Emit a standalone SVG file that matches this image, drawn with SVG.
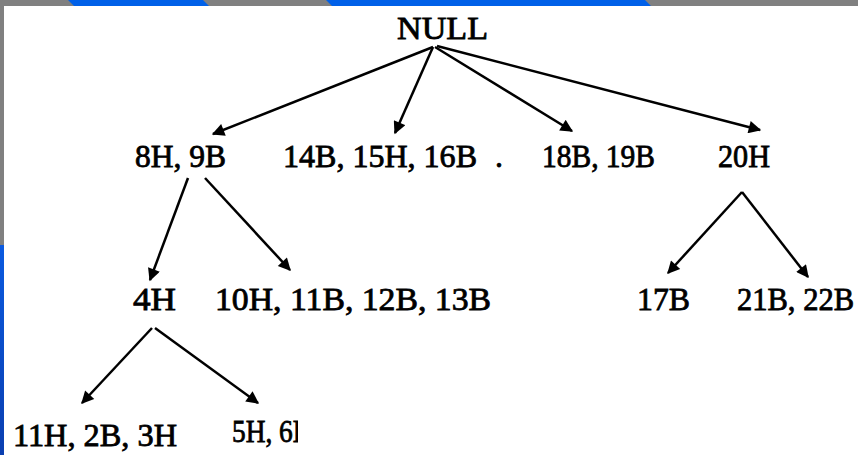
<svg xmlns="http://www.w3.org/2000/svg" width="858" height="455" viewBox="0 0 858 455">
<defs>
<style>
.t{font-family:"Liberation Serif","Times New Roman",serif;font-size:32px;fill:#000;stroke:#000;stroke-width:0.8}
.e{stroke:#000;stroke-width:2.5;fill:none;marker-end:url(#ah)}
</style>
<marker id="ah" viewBox="0 0 10 10" refX="9" refY="5" markerWidth="5.5" markerHeight="5" orient="auto" markerUnits="strokeWidth">
<path d="M0,0 L10,5 L0,10 z" fill="#000"/>
</marker>
<linearGradient id="lb" x1="0" y1="0" x2="0" y2="1">
<stop offset="0" stop-color="#0a5ae0"/>
<stop offset="1" stop-color="#0a3fb0"/>
</linearGradient>
<clipPath id="cut"><rect x="0" y="380" width="298" height="75"/></clipPath>
</defs>
<rect x="0" y="0" width="858" height="455" fill="#fff"/>
<g id="frame">
<rect x="0" y="0" width="858" height="6" fill="#808080"/>
<polygon points="68,0 203,0 209,6 74,6" fill="#0060e8"/>
<polygon points="326,0 645,0 651,6 332,6" fill="#0060e8"/>
<rect x="0" y="0" width="4" height="245" fill="#808080"/>
<rect x="0" y="245" width="4" height="210" fill="url(#lb)"/>
</g>
<g id="connectors">
<line class="e" x1="433" y1="47" x2="213" y2="134"/>
<line class="e" x1="433" y1="47" x2="395" y2="133"/>
<line class="e" x1="435" y1="47" x2="572" y2="131"/>
<line class="e" x1="437" y1="46" x2="760" y2="130"/>
<line class="e" x1="188" y1="178" x2="150" y2="280"/>
<line class="e" x1="205" y1="178" x2="290" y2="270"/>
<line class="e" x1="742" y1="192" x2="668" y2="273"/>
<line class="e" x1="742" y1="192" x2="808" y2="277"/>
<line class="e" x1="152" y1="328" x2="82" y2="403"/>
<line class="e" x1="155" y1="328" x2="258" y2="403"/>
</g>
<g id="n-null"><text class="t" x="397" y="39" textLength="91" lengthAdjust="spacingAndGlyphs">NULL</text></g>
<g id="n-8h"><text class="t" x="135" y="167" textLength="91" lengthAdjust="spacingAndGlyphs">8H, 9B</text></g>
<g id="n-14b"><text class="t" x="283" y="167" textLength="194" lengthAdjust="spacingAndGlyphs">14B, 15H, 16B</text></g>
<g id="n-dot"><text class="t" x="495" y="167">.</text></g>
<g id="n-18b"><text class="t" x="542" y="167" textLength="113" lengthAdjust="spacingAndGlyphs">18B, 19B</text></g>
<g id="n-20h"><text class="t" x="718" y="167" textLength="52" lengthAdjust="spacingAndGlyphs">20H</text></g>
<g id="n-4h"><text class="t" x="133" y="310" textLength="43" lengthAdjust="spacingAndGlyphs">4H</text></g>
<g id="n-10h"><text class="t" x="215" y="310" textLength="276" lengthAdjust="spacingAndGlyphs">10H, 11B, 12B, 13B</text></g>
<g id="n-17b"><text class="t" x="637" y="310" textLength="53" lengthAdjust="spacingAndGlyphs">17B</text></g>
<g id="n-21b"><text class="t" x="737" y="310" font-size="30.5" textLength="117" lengthAdjust="spacingAndGlyphs">21B, 22B</text></g>
<g id="n-11h"><text class="t" x="13" y="446" textLength="164" lengthAdjust="spacingAndGlyphs">11H, 2B, 3H</text></g>
<g id="n-5h" clip-path="url(#cut)"><text class="t" x="232" y="442" font-size="31" textLength="79" lengthAdjust="spacingAndGlyphs">5H, 6B</text></g>
</svg>
